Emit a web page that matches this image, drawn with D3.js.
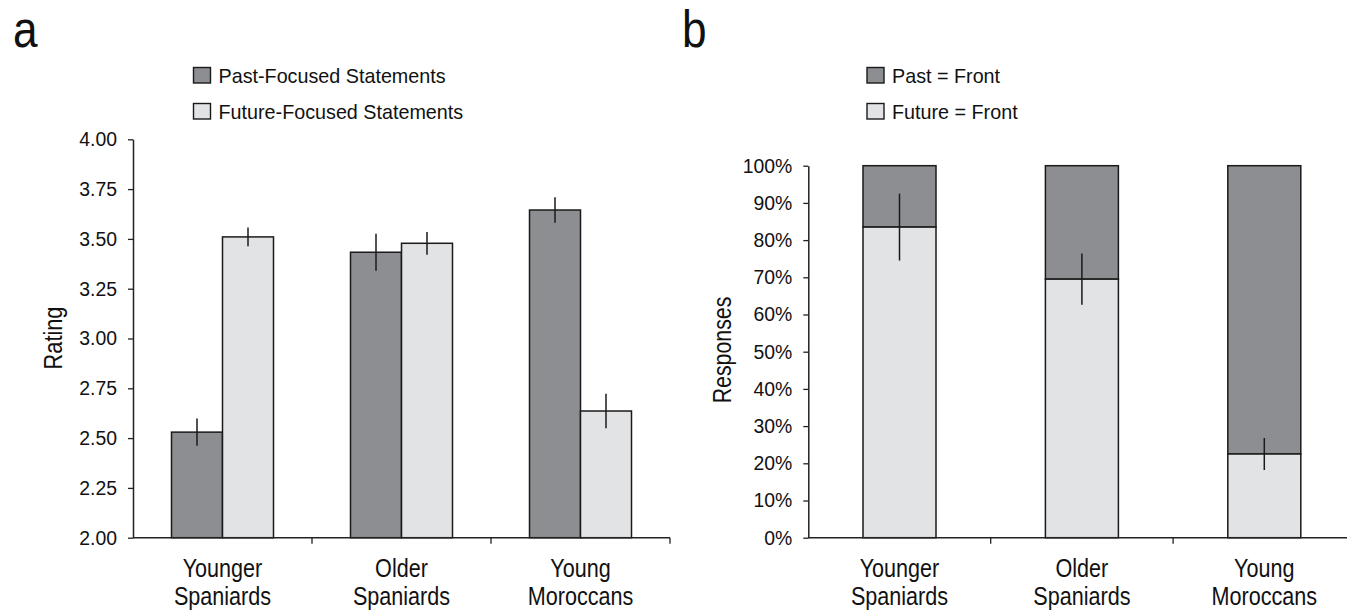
<!DOCTYPE html>
<html>
<head>
<meta charset="utf-8">
<script src="https://cdn.jsdelivr.net/npm/d3@7"></script>
<style>
  html, body { margin: 0; padding: 0; background: #fff; }
  svg { display: block; }
  text { font-family: "Liberation Sans", Arial, sans-serif; fill: #111; }
</style>
</head>
<body>
<svg id="chart" width="1347" height="611"></svg>
<script>
// ---------- data ----------
const categories = [["Younger", "Spaniards"], ["Older", "Spaniards"], ["Young", "Moroccans"]];
const categoryKeys = ["Younger Spaniards", "Older Spaniards", "Young Moroccans"];

// panel a: mean ratings (with error bars)
const seriesA = ["Past-Focused Statements", "Future-Focused Statements"];
const pastRating = [2.53, 3.433, 3.645];
const pastErr = [0.068, 0.093, 0.064];
const futureRating = [3.51, 3.478, 2.636];
const futureErr = [0.047, 0.057, 0.087];
const ratingTicks = [2.00, 2.25, 2.50, 2.75, 3.00, 3.25, 3.50, 3.75, 4.00];

// panel b: proportion of responses
const seriesB = ["Past = Front", "Future = Front"];
const futureFront = [0.835, 0.695, 0.225];
const futureFrontErr = [0.09, 0.069, 0.043];
const pctTicks = [0, 0.1, 0.2, 0.3, 0.4, 0.5, 0.6, 0.7, 0.8, 0.9, 1.0];

// ---------- styles ----------
const darkFill = "#8d8e91";
const lightFill = "#e2e3e5";
const strokeCol = "#1a1a1a";
const axisCol = "#222";

const svg = d3.select("#chart");

// horizontally condense text to mimic a condensed typeface
function condense(sel, factor) {
  sel.each(function () {
    const w = this.getComputedTextLength();
    this.setAttribute("textLength", (w * factor).toFixed(2));
    this.setAttribute("lengthAdjust", "spacingAndGlyphs");
  });
}

function drawYAxis(g, y, ticks, fmt, x0) {
  const ax = g.append("g")
    .attr("transform", `translate(${x0},0)`)
    .call(d3.axisLeft(y).tickValues(ticks).tickFormat(fmt).tickSize(5).tickSizeOuter(0).tickPadding(11));
  ax.select(".domain").attr("stroke", axisCol).attr("stroke-width", 1.5);
  ax.selectAll(".tick line").attr("stroke", axisCol).attr("stroke-width", 1.3);
  const t = ax.selectAll(".tick text")
    .attr("font-family", '"Liberation Sans", Arial, sans-serif')
    .attr("font-size", 20).attr("fill", "#111");
  condense(t, 0.97);
}

function drawXAxis(g, x, y0) {
  const [r0, r1] = x.range();
  g.append("line").attr("x1", r0).attr("x2", r1).attr("y1", y0).attr("y2", y0)
    .attr("stroke", axisCol).attr("stroke-width", 1.5);
  g.selectAll(".xtick").data(categoryKeys).enter().append("line")
    .attr("x1", d => x(d) + x.bandwidth()).attr("x2", d => x(d) + x.bandwidth())
    .attr("y1", y0).attr("y2", y0 + 6)
    .attr("stroke", axisCol).attr("stroke-width", 1.3);
  categoryKeys.forEach((d, i) => {
    categories[i].forEach((line, j) => {
      const t = g.append("text")
        .attr("text-anchor", "middle")
        .attr("font-size", 26)
        .attr("x", x(d) + x.bandwidth() / 2)
        .attr("y", y0 + 39 + j * 28)
        .text(line);
      condense(t, 0.83);
    });
  });
}

function legend(g, x, labels, fills) {
  labels.forEach((lab, i) => {
    g.append("rect").attr("x", x).attr("y", 67.5 + i * 36).attr("width", 17).attr("height", 15.5)
      .attr("fill", fills[i]).attr("stroke", strokeCol).attr("stroke-width", 1.4);
    const t = g.append("text").attr("x", x + 25).attr("y", 83 + i * 36)
      .attr("font-size", 21).text(lab);
    condense(t, 0.94);
  });
}

// ================= Panel a =================
const gA = svg.append("g");
const xA = d3.scaleBand().domain(categoryKeys).range([133, 670]).padding(0);
const x1A = d3.scaleBand().domain(seriesA).range([-51, 51]).padding(0);
const yA = d3.scaleLinear().domain([2, 4]).range([537.7, 139.3]);

condense(gA.append("text").attr("x", 13).attr("y", 47).attr("font-size", 52).text("a"), 0.85);
legend(gA, 193.5, seriesA, [darkFill, lightFill]);

const rowsA = categoryKeys.map((c, i) => ({
  c, vals: [
    { s: seriesA[0], v: pastRating[i], e: pastErr[i], fill: darkFill },
    { s: seriesA[1], v: futureRating[i], e: futureErr[i], fill: lightFill }
  ]
}));

rowsA.forEach(row => {
  const cx = xA(row.c) + xA.bandwidth() / 2;
  row.vals.forEach(d => {
    gA.append("rect")
      .attr("x", cx + x1A(d.s)).attr("width", x1A.bandwidth())
      .attr("y", yA(d.v)).attr("height", yA(2) - yA(d.v))
      .attr("fill", d.fill).attr("stroke", strokeCol).attr("stroke-width", 1.5);
  });
  row.vals.forEach(d => {
    const ex = cx + x1A(d.s) + x1A.bandwidth() / 2;
    gA.append("line").attr("x1", ex).attr("x2", ex)
      .attr("y1", yA(d.v + d.e)).attr("y2", yA(d.v - d.e))
      .attr("stroke", strokeCol).attr("stroke-width", 1.5);
  });
});

drawYAxis(gA, yA, ratingTicks, d3.format(".2f"), 133);
drawXAxis(gA, xA, 537.7);
condense(gA.append("text").attr("transform", "translate(62,338) rotate(-90)")
  .attr("text-anchor", "middle").attr("font-size", 25).text("Rating"), 0.87);

// ================= Panel b =================
const gB = svg.append("g");
const xB = d3.scaleBand().domain(categoryKeys).range([808.3, 1355.5]).padding(0);
const yB = d3.scaleLinear().domain([0, 1]).range([537.7, 165.7]);
const barW = 73;

condense(gB.append("text").attr("x", 682).attr("y", 47).attr("font-size", 52).text("b"), 0.85);
legend(gB, 867, seriesB, [darkFill, lightFill]);

categoryKeys.forEach((c, i) => {
  const cx = xB(c) + xB.bandwidth() / 2;
  const f = futureFront[i];
  // Past = Front (top segment)
  gB.append("rect").attr("x", cx - barW / 2).attr("width", barW)
    .attr("y", yB(1)).attr("height", yB(f) - yB(1))
    .attr("fill", darkFill).attr("stroke", strokeCol).attr("stroke-width", 1.5);
  // Future = Front (bottom segment)
  gB.append("rect").attr("x", cx - barW / 2).attr("width", barW)
    .attr("y", yB(f)).attr("height", yB(0) - yB(f))
    .attr("fill", lightFill).attr("stroke", strokeCol).attr("stroke-width", 1.5);
  gB.append("line").attr("x1", cx).attr("x2", cx)
    .attr("y1", yB(f + futureFrontErr[i])).attr("y2", yB(f - futureFrontErr[i]))
    .attr("stroke", strokeCol).attr("stroke-width", 1.5);
});

drawYAxis(gB, yB, pctTicks, d3.format(".0%"), 808.3);
drawXAxis(gB, xB, 537.7);
condense(gB.append("text").attr("transform", "translate(731,350) rotate(-90)")
  .attr("text-anchor", "middle").attr("font-size", 26).text("Responses"), 0.82);
</script>
</body>
</html>
